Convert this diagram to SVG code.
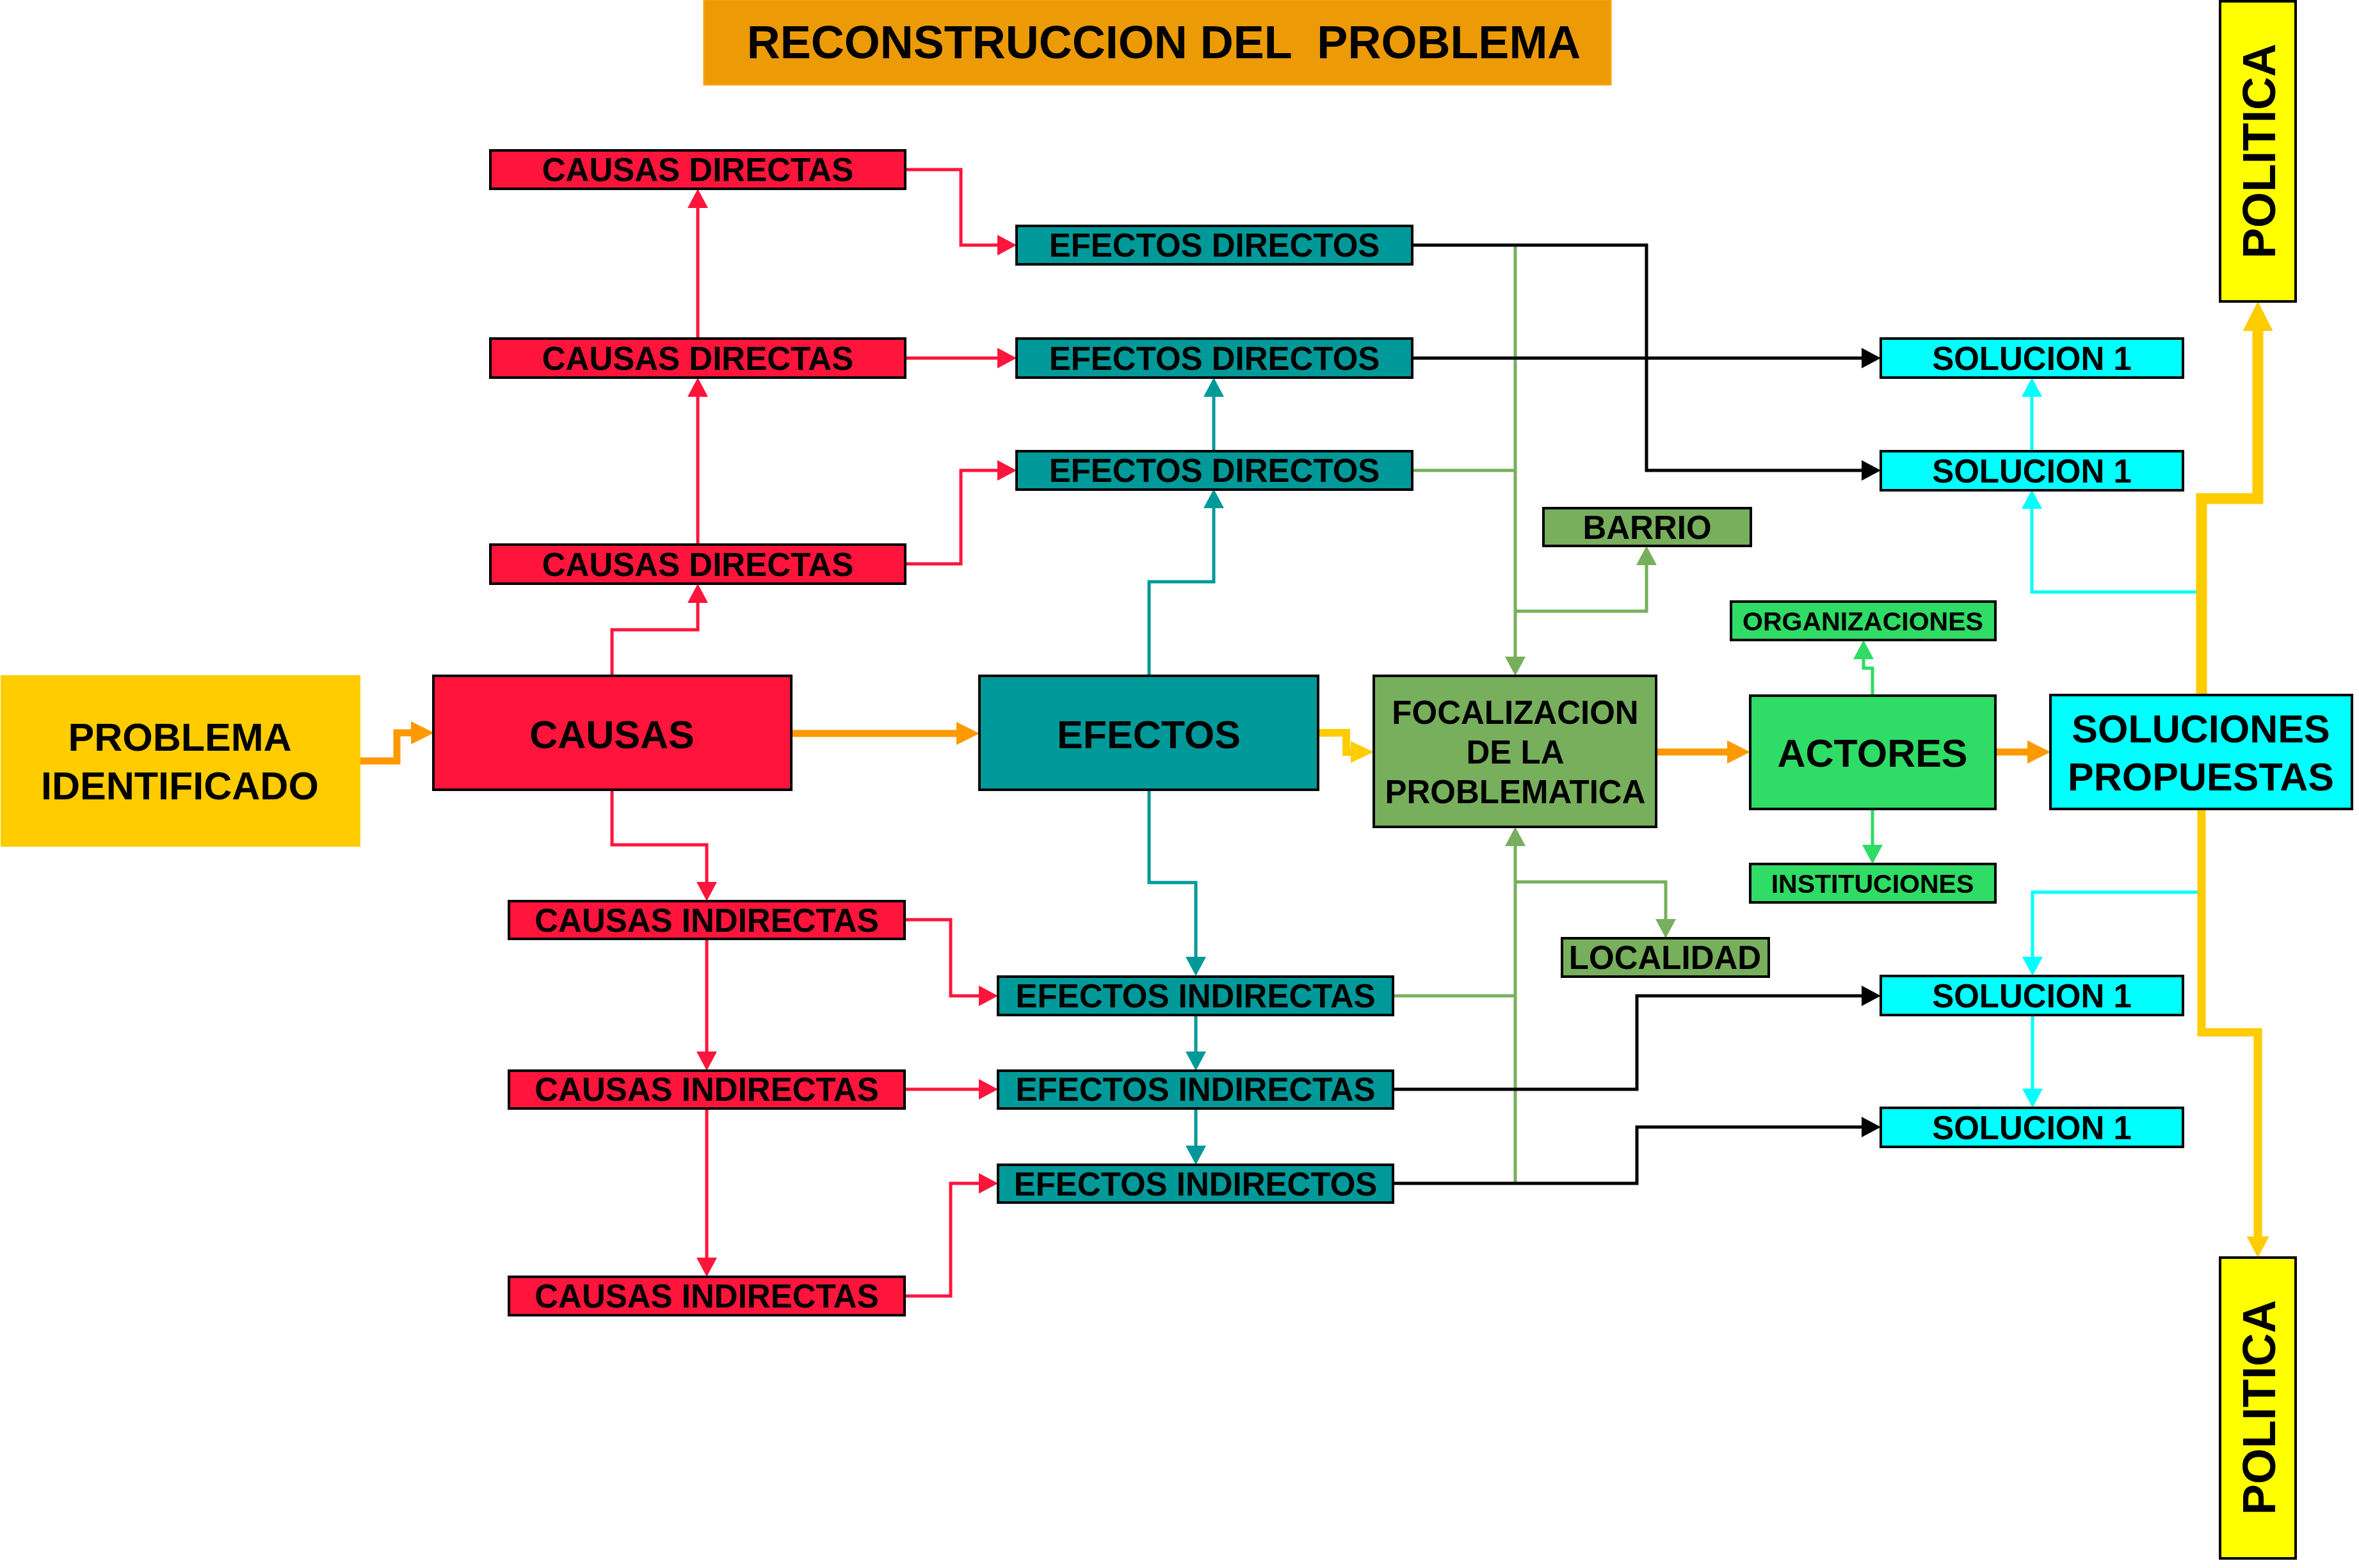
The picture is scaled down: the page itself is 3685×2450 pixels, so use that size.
<svg xmlns="http://www.w3.org/2000/svg" width="3685" height="2450" viewBox="0 0 3685 2450">
<style>
.t{font-family:"Liberation Sans",Arial,sans-serif;font-weight:bold;fill:#000;text-anchor:middle;white-space:pre}
.s{font-size:51px}.l{font-size:61px}.xs{font-size:41px}.h{font-size:72px}
.bx{stroke:#000;stroke-width:4}
.red{fill:#FF143C}.teal{fill:#009999}.grn{fill:#77AF5C}.bg{fill:#2FDC65}.cy{fill:#00FFFF}.yl{fill:#FFFF00}
.c{fill:none;stroke-width:5;stroke-linejoin:miter;stroke-linecap:butt}
.cr{stroke:#FF143C;marker-end:url(#mr)}.ct{stroke:#009999;marker-end:url(#mt)}.ck{stroke:#000;marker-end:url(#mk)}
.cg{stroke:#77AF5C}.cgm{marker-end:url(#mg)}.cb{stroke:#2FDC65;marker-end:url(#mb)}.cc{stroke:#00FFFF}.ccm{marker-end:url(#mc)}
.co{stroke:#FF9900;stroke-width:11;marker-end:url(#mo)}
.y1{stroke:#FFCC00;stroke-width:12;marker-end:url(#my)}
.y2{stroke:#FFCC00;stroke-width:17;marker-end:url(#myb)}
.y3{stroke:#FFCC00;stroke-width:13;marker-end:url(#mys)}
</style>
<defs>
<marker id="mr" viewBox="0 0 30 32" refX="1" refY="16" markerWidth="30" markerHeight="32" markerUnits="userSpaceOnUse" orient="auto"><path d="M0,0L30,16L0,32z" fill="#FF143C"/></marker>
<marker id="mt" viewBox="0 0 30 32" refX="1" refY="16" markerWidth="30" markerHeight="32" markerUnits="userSpaceOnUse" orient="auto"><path d="M0,0L30,16L0,32z" fill="#009999"/></marker>
<marker id="mk" viewBox="0 0 30 32" refX="1" refY="16" markerWidth="30" markerHeight="32" markerUnits="userSpaceOnUse" orient="auto"><path d="M0,0L30,16L0,32z" fill="#000"/></marker>
<marker id="mg" viewBox="0 0 30 32" refX="1" refY="16" markerWidth="30" markerHeight="32" markerUnits="userSpaceOnUse" orient="auto"><path d="M0,0L30,16L0,32z" fill="#77AF5C"/></marker>
<marker id="mb" viewBox="0 0 30 32" refX="1" refY="16" markerWidth="30" markerHeight="32" markerUnits="userSpaceOnUse" orient="auto"><path d="M0,0L30,16L0,32z" fill="#2FDC65"/></marker>
<marker id="mc" viewBox="0 0 30 32" refX="1" refY="16" markerWidth="30" markerHeight="32" markerUnits="userSpaceOnUse" orient="auto"><path d="M0,0L30,16L0,32z" fill="#00FFFF"/></marker>
<marker id="mo" viewBox="0 0 36 36" refX="1" refY="18" markerWidth="36" markerHeight="36" markerUnits="userSpaceOnUse" orient="auto"><path d="M0,0L36,18L0,36z" fill="#FF9900"/></marker>
<marker id="my" viewBox="0 0 36 34" refX="1" refY="17" markerWidth="36" markerHeight="34" markerUnits="userSpaceOnUse" orient="auto"><path d="M0,0L36,17L0,34z" fill="#FFCC00"/></marker>
<marker id="myb" viewBox="0 0 46 47" refX="1" refY="23.5" markerWidth="46" markerHeight="47" markerUnits="userSpaceOnUse" orient="auto"><path d="M0,0L46,23.5L0,47z" fill="#FFCC00"/></marker>
<marker id="mys" viewBox="0 0 33 35" refX="1" refY="17.5" markerWidth="33" markerHeight="35" markerUnits="userSpaceOnUse" orient="auto"><path d="M0,0L33,17.5L0,35z" fill="#FFCC00"/></marker>
</defs>
<rect width="3685" height="2450" fill="#FFFFFF"/>

<g id="connectors">
<path class="c cr" d="M956,1056V984H1090V941"/>
<path class="c cr" d="M1090,851V619"/>
<path class="c cr" d="M1090,529V324"/>
<path class="c cr" d="M1414,265H1501V383H1559"/>
<path class="c cr" d="M1414,559.5H1559"/>
<path class="c cr" d="M1414,881H1501V735H1559"/>
<path class="c cr" d="M956,1234V1320H1104V1379"/>
<path class="c cr" d="M1104,1466V1644"/>
<path class="c cr" d="M1104,1732V1966"/>
<path class="c cr" d="M1413,1437H1485V1556H1530"/>
<path class="c cr" d="M1413,1702H1530"/>
<path class="c cr" d="M1413,2025H1485V1849H1530"/>
<path class="c ct" d="M1795,1056V909H1896V793"/>
<path class="c ct" d="M1896,705V619"/>
<path class="c ct" d="M1795,1234V1379H1868V1496"/>
<path class="c ct" d="M1868,1586V1644"/>
<path class="c ct" d="M1868,1732V1791"/>
<path class="c cg cgm" d="M2367,383V1027"/>
<path class="c cg" d="M2206,735H2367"/>
<path class="c cg cgm" d="M2367,955H2572V882"/>
<path class="c cg cgm" d="M2367,1849V1321"/>
<path class="c cg" d="M2176,1556H2367"/>
<path class="c cg cgm" d="M2367,1378H2602V1437"/>
<path class="c ck" d="M2206,383H2572V735H2909"/>
<path class="c ck" d="M2206,559.5H2909"/>
<path class="c ck" d="M2176,1702H2557V1556H2909"/>
<path class="c ck" d="M2176,1849H2557V1761H2909"/>
<path class="c cb" d="M2925,1087V1044H2911V1029"/>
<path class="c cb" d="M2925,1264V1321"/>
<path class="c cc ccm" d="M3439,925H3174V794"/>
<path class="c cc ccm" d="M3174,705V619"/>
<path class="c cc ccm" d="M3439,1394H3175V1496"/>
<path class="c cc ccm" d="M3175,1586V1702"/>
<path class="c co" d="M563,1189H620V1145H643"/>
<path class="c co" d="M1236,1146H1495"/>
<path class="c co" d="M2587,1175H2699"/>
<path class="c co" d="M3117,1175H3168"/>
<path class="c y1" d="M2059,1145H2103V1175H2111"/>
<path class="c y2" d="M3439,1086V779H3527V516"/>
<path class="c y3" d="M3439,1264V1613H3527V1933"/>
</g>

<g id="title"><rect x="1100" y="0" width="1416" height="132" fill="#EC9B06" stroke="#F9A000" stroke-width="3"/><text class="t h" x="1818" y="91">RECONSTRUCCION DEL  PROBLEMA</text></g>

<g id="problema"><rect x="1" y="1055" width="562" height="268" fill="#FFCC00"/><text class="t l" x="281" y="1173">PROBLEMA</text><text class="t l" x="281" y="1249">IDENTIFICADO</text></g>

<g id="causas"><rect class="bx red" x="677" y="1056" width="559" height="178"/><text class="t l" x="956" y="1169">CAUSAS</text></g>
<g id="cd1"><rect class="bx red" x="766" y="235" width="648" height="60"/><text class="t s" x="1090" y="283">CAUSAS DIRECTAS</text></g>
<g id="cd2"><rect class="bx red" x="766" y="529" width="648" height="61"/><text class="t s" x="1090" y="577.5">CAUSAS DIRECTAS</text></g>
<g id="cd3"><rect class="bx red" x="766" y="851" width="648" height="61"/><text class="t s" x="1090" y="899.5">CAUSAS DIRECTAS</text></g>
<g id="ci1"><rect class="bx red" x="795" y="1408" width="618" height="59"/><text class="t s" x="1104" y="1455.5">CAUSAS INDIRECTAS</text></g>
<g id="ci2"><rect class="bx red" x="795" y="1673" width="618" height="59"/><text class="t s" x="1104" y="1720">CAUSAS INDIRECTAS</text></g>
<g id="ci3"><rect class="bx red" x="795" y="1995" width="618" height="60"/><text class="t s" x="1104" y="2043">CAUSAS INDIRECTAS</text></g>

<g id="efectos"><rect class="bx teal" x="1530" y="1056" width="529" height="178"/><text class="t l" x="1794.5" y="1169">EFECTOS</text></g>
<g id="ed1"><rect class="bx teal" x="1588" y="353" width="618" height="60"/><text class="t s" x="1897" y="401">EFECTOS DIRECTOS</text></g>
<g id="ed2"><rect class="bx teal" x="1588" y="529" width="618" height="61"/><text class="t s" x="1897" y="577.5">EFECTOS DIRECTOS</text></g>
<g id="ed3"><rect class="bx teal" x="1588" y="705" width="618" height="60"/><text class="t s" x="1897" y="753">EFECTOS DIRECTOS</text></g>
<g id="ei1"><rect class="bx teal" x="1559" y="1526" width="617" height="60"/><text class="t s" x="1867.5" y="1574">EFECTOS INDIRECTAS</text></g>
<g id="ei2"><rect class="bx teal" x="1559" y="1673" width="617" height="59"/><text class="t s" x="1867.5" y="1720">EFECTOS INDIRECTAS</text></g>
<g id="ei3"><rect class="bx teal" x="1559" y="1820" width="617" height="59"/><text class="t s" x="1867.5" y="1867.5">EFECTOS INDIRECTOS</text></g>

<g id="focalizacion"><rect class="bx grn" x="2146" y="1056" width="441" height="236"/><text class="t s" x="2367" y="1131">FOCALIZACION</text><text class="t s" x="2367" y="1193">DE LA</text><text class="t s" x="2367" y="1255">PROBLEMATICA</text></g>
<g id="barrio"><rect class="bx grn" x="2411" y="794" width="324" height="59"/><text class="t s" x="2573" y="841.5">BARRIO</text></g>
<g id="localidad"><rect class="bx grn" x="2440" y="1466" width="323" height="60"/><text class="t s" x="2601" y="1514">LOCALIDAD</text></g>

<g id="actores"><rect class="bx bg" x="2734" y="1087" width="383" height="177"/><text class="t l" x="2925" y="1198">ACTORES</text></g>
<g id="organizaciones"><rect class="bx bg" x="2704" y="940" width="413" height="60"/><text class="t xs" x="2910" y="984.5">ORGANIZACIONES</text></g>
<g id="instituciones"><rect class="bx bg" x="2734" y="1350" width="383" height="60"/><text class="t xs" x="2925" y="1394.5">INSTITUCIONES</text></g>

<g id="soluciones"><rect class="bx cy" x="3203" y="1086" width="471" height="178"/><text class="t l" x="3438" y="1160">SOLUCIONES</text><text class="t l" x="3438" y="1235">PROPUESTAS</text></g>
<g id="sol1"><rect class="bx cy" x="2938" y="529" width="472" height="61"/><text class="t s" x="3174" y="577.5">SOLUCION 1</text></g>
<g id="sol2"><rect class="bx cy" x="2938" y="705" width="472" height="61"/><text class="t s" x="3174" y="753.5">SOLUCION 1</text></g>
<g id="sol3"><rect class="bx cy" x="2938" y="1525" width="472" height="61"/><text class="t s" x="3174" y="1573.5">SOLUCION 1</text></g>
<g id="sol4"><rect class="bx cy" x="2938" y="1731" width="472" height="61"/><text class="t s" x="3174" y="1779.5">SOLUCION 1</text></g>

<g id="politica-top"><rect class="bx yl" x="3468" y="2" width="118" height="469"/><text class="t h" transform="translate(3554,236) rotate(-90)">POLITICA</text></g>
<g id="politica-bottom"><rect class="bx yl" x="3468" y="1965" width="118" height="470"/><text class="t h" transform="translate(3554,2199) rotate(-90)">POLITICA</text></g>
</svg>
